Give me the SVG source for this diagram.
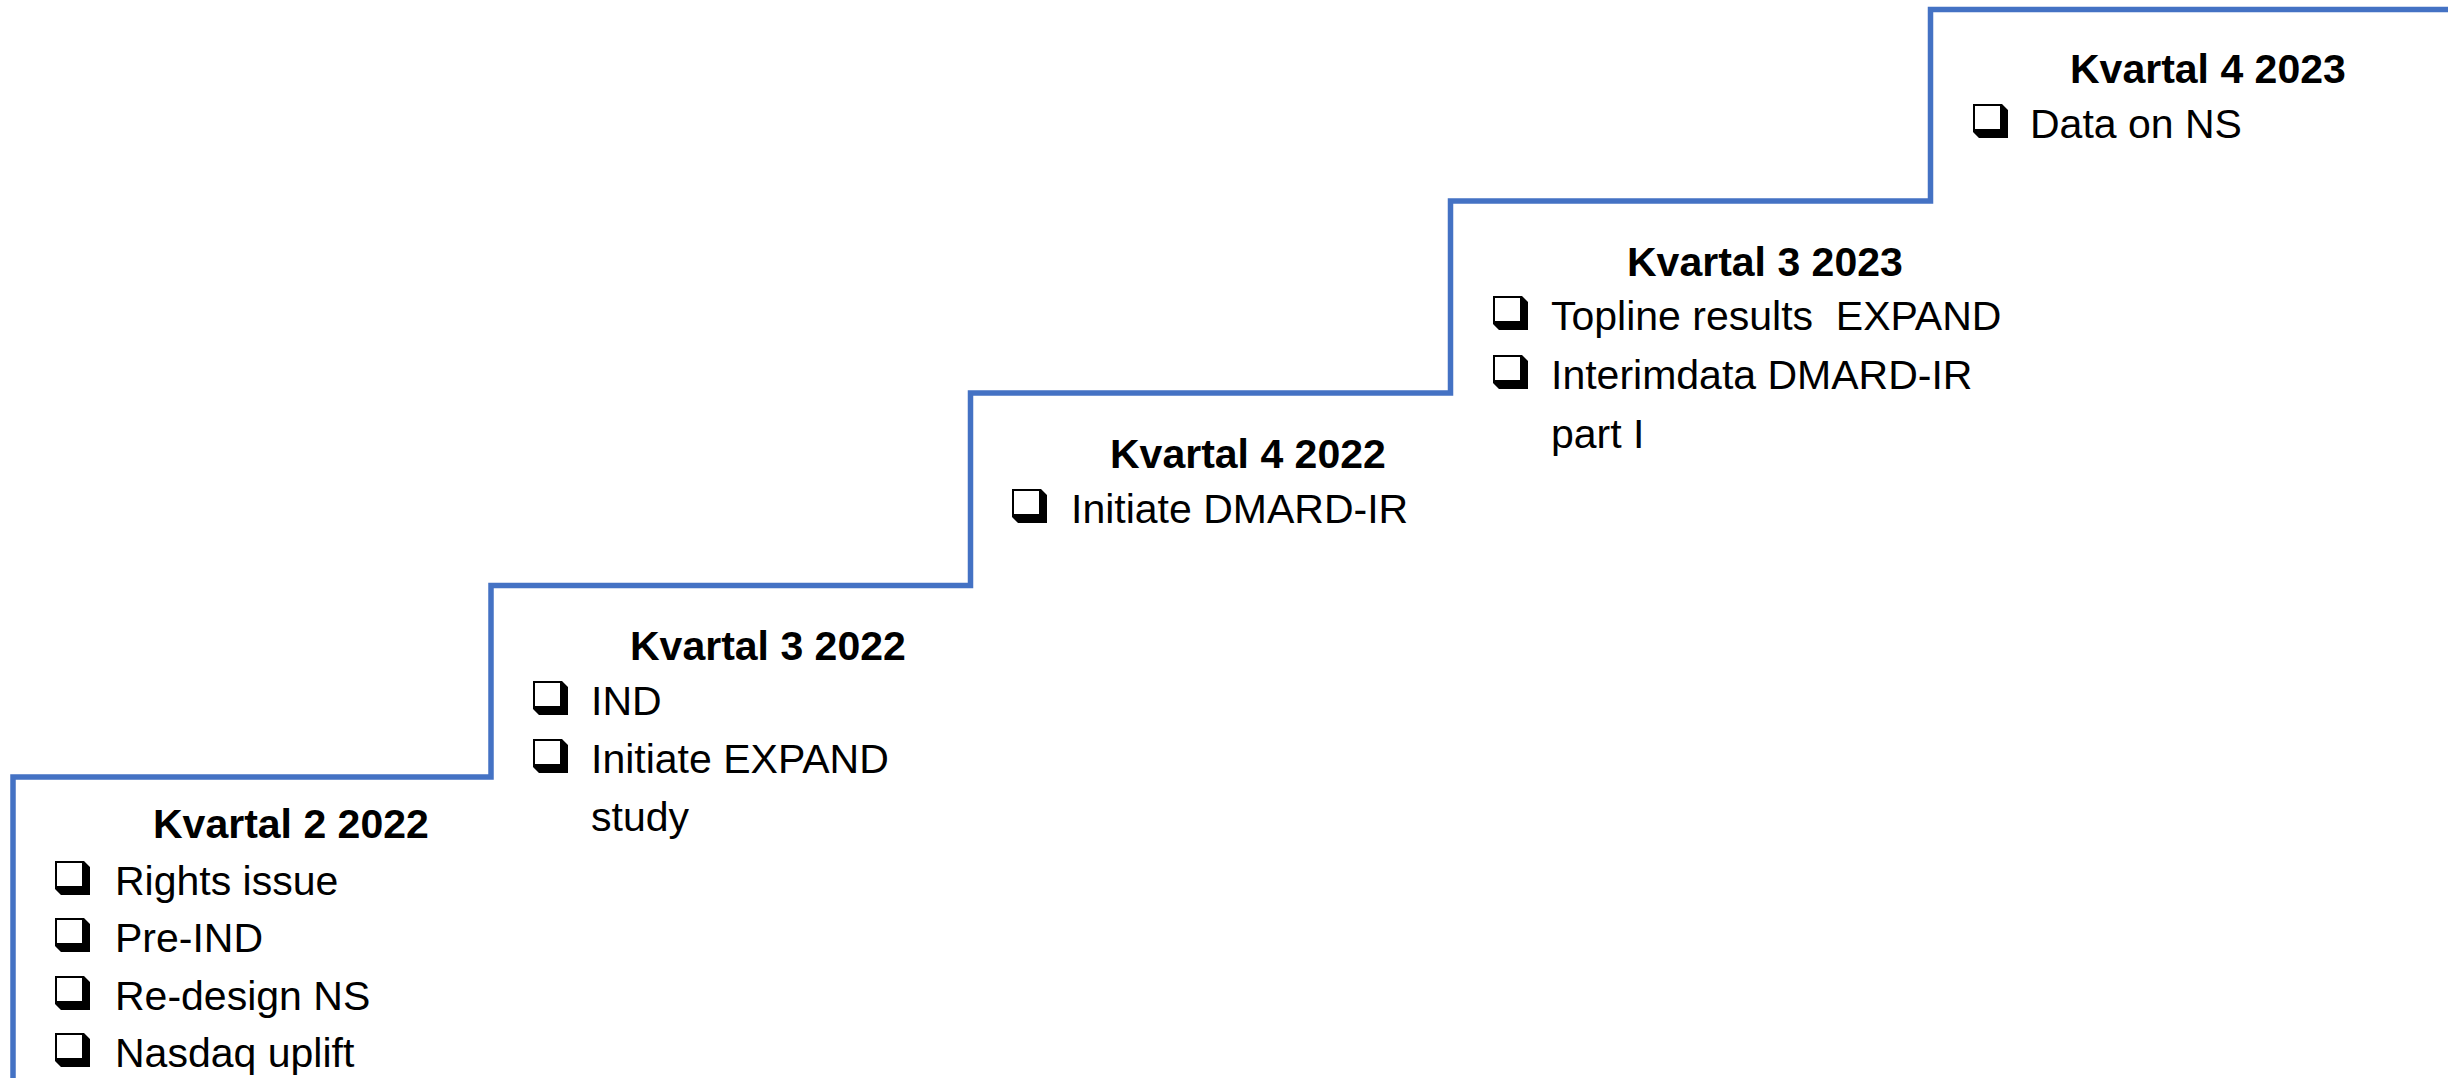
<svg xmlns="http://www.w3.org/2000/svg" xmlns:xlink="http://www.w3.org/1999/xlink" width="2448" height="1078" viewBox="0 0 2448 1078">
  <style>
    .stair { fill: none; stroke: #4472C4; stroke-width: 5.5; stroke-linejoin: miter; }
    .title { font-family: "Liberation Sans", Arial, sans-serif; font-weight: bold; font-size: 41px; fill: #000; }
    .item { font-family: "Liberation Sans", Arial, sans-serif; font-size: 41px; fill: #000; }
  </style>
  <defs>
    <!-- shadowed check box, origin at left edge / text baseline -->
    <g id="cb">
      <rect x="1" y="-33" width="27" height="25" fill="#fff" stroke="#000" stroke-width="2"/>
      <polygon points="29,-34 35,-28 35,0 6,0 0,-6 0,-7 29,-7" fill="#000"/>
    </g>
  </defs>
  <rect width="2448" height="1078" fill="#fff"/>

  <g id="connectors">
    <path id="staircase" class="stair" d="M13,1078 V777 H491 V585.5 H970.5 V393 H1450.5 V201 H1930.5 V9.5 H2448"/>
  </g>

  <g id="q2-2022">
    <text class="title" x="153" y="838">Kvartal 2 2022</text>
    <use xlink:href="#cb" x="55" y="895"/>
    <text class="item" x="115" y="895">Rights issue</text>
    <use xlink:href="#cb" x="55" y="952"/>
    <text class="item" x="115" y="952">Pre-IND</text>
    <use xlink:href="#cb" x="55" y="1010"/>
    <text class="item" x="115" y="1010">Re-design NS</text>
    <use xlink:href="#cb" x="55" y="1067"/>
    <text class="item" x="115" y="1067">Nasdaq uplift</text>
  </g>

  <g id="q3-2022">
    <text class="title" x="630" y="660">Kvartal 3 2022</text>
    <use xlink:href="#cb" x="533" y="715"/>
    <text class="item" x="591" y="715">IND</text>
    <use xlink:href="#cb" x="533" y="773"/>
    <text class="item" x="591" y="773">Initiate EXPAND</text>
    <text class="item" x="591" y="831">study</text>
  </g>

  <g id="q4-2022">
    <text class="title" x="1110" y="468">Kvartal 4 2022</text>
    <use xlink:href="#cb" x="1012" y="523"/>
    <text class="item" x="1071" y="523">Initiate DMARD-IR</text>
  </g>

  <g id="q3-2023">
    <text class="title" x="1627" y="276">Kvartal 3 2023</text>
    <use xlink:href="#cb" x="1493" y="330"/>
    <text class="item" x="1551" y="330" xml:space="preserve">Topline results  EXPAND</text>
    <use xlink:href="#cb" x="1493" y="389"/>
    <text class="item" x="1551" y="389">Interimdata DMARD-IR</text>
    <text class="item" x="1551" y="448">part I</text>
  </g>

  <g id="q4-2023">
    <text class="title" x="2070" y="83">Kvartal 4 2023</text>
    <use xlink:href="#cb" x="1973" y="138"/>
    <text class="item" x="2030" y="138">Data on NS</text>
  </g>
</svg>
